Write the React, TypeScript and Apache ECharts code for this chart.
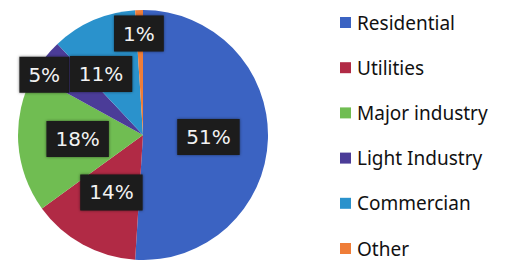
import React, { useEffect, useRef } from "react";
import * as echarts from "echarts";

const categories = ["Residential", "Utilities", "Major industry", "Light Industry", "Commercian", "Other"];
const shares = [51, 14, 18, 5, 11, 1];
const sliceColors = ["#3b63c2", "#b12a45", "#70bd52", "#4b3c98", "#2a92cc", "#ef7d38"];
// label nudges (dx, dy) per slice, to mirror the reference's placement
const labelNudge: Record<number, [number, number]> = {
  3: [-47, -20],
  4: [-16, -1],
  5: [-2, -36],
};

export default function App() {
  const ref = useRef<HTMLDivElement>(null);
  useEffect(() => {
    if (!ref.current) return;
    const chart = echarts.init(ref.current, undefined, { renderer: "svg" });
    chart.setOption({
      animation: false,
      backgroundColor: "#ffffff",
      legend: {
        orient: "vertical",
        left: 335,
        top: 8,
        height: 400,
        icon: "rect",
        itemWidth: 11,
        itemHeight: 11,
        itemGap: 26.2,
        data: categories,
        textStyle: {
          fontFamily: "Noto Sans",
          fontSize: 19,
          lineHeight: 18,
          color: "#111111",
          padding: [0, 0, 0, 1],
        },
      },
      series: [
        {
          type: "pie",
          center: [143, 135],
          radius: [0, 125],
          startAngle: 90,
          clockwise: true,
          avoidLabelOverlap: false,
          label: {
            show: true,
            position: "inside",
            formatter: "{c}%",
            fontFamily: "DejaVu Sans",
            fontSize: 20,
            lineHeight: 20,
            color: "#f2f2f2",
            backgroundColor: "#1b1b1b",
            padding: [8, 9],
            shadowColor: "rgba(0,0,0,0.5)",
            shadowBlur: 3,
          },
          labelLayout: (params: any) => {
            const n = labelNudge[params.dataIndex];
            return n ? { dx: n[0], dy: n[1] } : {};
          },
          labelLine: { show: false },
          emphasis: { disabled: true },
          data: categories.map((name, i) => ({
            name,
            value: shares[i],
            itemStyle: { color: sliceColors[i] },
          })),
        },
      ],
    });
    return () => chart.dispose();
  }, []);
  return <div ref={ref} style={{ position: "fixed", left: 0, top: 0, width: 510, height: 260 }} />;
}
